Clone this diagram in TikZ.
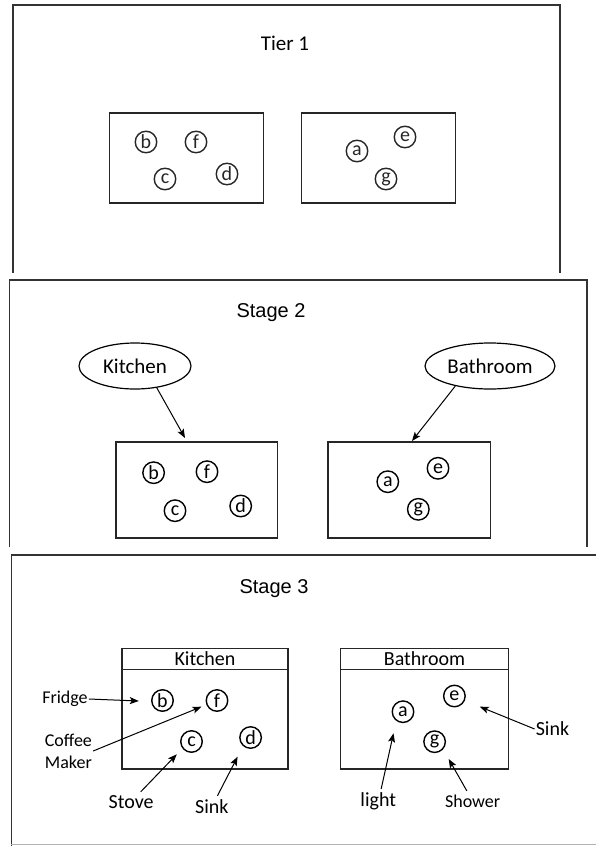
\documentclass[tikz,border=0pt]{standalone}
\usepackage{fontspec}
\setmainfont{Carlito}
\newfontfamily\arialfont{Liberation Sans}
\usetikzlibrary{arrows.meta,shapes.geometric}

\begin{document}
\begin{tikzpicture}[x=1pt, y=-1pt,
    frameStyle/.style={line width=1.3pt, black!80},
    boxStyle/.style={draw, line width=1.6pt, black!85},
    letterStyle/.style={circle, draw, line width=1.4pt, minimum size=21.5pt, inner sep=0pt, font=\fontsize{20}{20}\selectfont},
    ellStyle/.style={ellipse, draw, line width=1.2pt, minimum width=112pt, minimum height=46pt, font=\fontsize{21}{21}\selectfont},
    headStyle/.style={draw, line width=1.6pt, black!85, text=black, minimum height=21pt, inner sep=0pt, anchor=north, font=\fontsize{20}{20}\selectfont},
    tagStyle/.style={inner sep=1pt, font=\fontsize{20}{20}\selectfont},
    arrowStyle/.style={-{Stealth[length=9pt, width=7pt, inset=2pt]}, line width=1pt, shorten <=3pt},
    titleStyle/.style={font=\arialfont\fontsize{20}{20}\selectfont}]

\useasboundingbox (0,0) rectangle (596,846);

% Tier 1
\draw[frameStyle] (13,273) -- (13,5) -- (560,5) -- (560,273);
\node[font=\fontsize{21}{21}\selectfont] (title1) at (285,43) {Tier 1};
\node[boxStyle, minimum width=154pt, minimum height=90pt] (box11) at (186.5,158) {};
\node[boxStyle, minimum width=154pt, minimum height=90pt] (box12) at (378.5,158) {};
\node[letterStyle, black!85] (b1) at (146,142) {b};
\node[letterStyle, black!85] (f1) at (196,142) {f};
\node[letterStyle, black!85] (c1) at (165,179) {c};
\node[letterStyle, black!85] (d1) at (227,174) {d};
\node[letterStyle, black!85] (a1) at (357,151) {a};
\node[letterStyle, black!85] (e1) at (405,137) {e};
\node[letterStyle, black!85] (g1) at (386,179) {g};

% Stage 2
\draw[frameStyle] (9.5,547) -- (9.5,280) -- (587,280) -- (587,547);
\node[titleStyle] (title2) at (271,313) {Stage 2};
\node[ellStyle] (kitchen2) at (135,366) {Kitchen};
\node[ellStyle] (bath2) at (490,366) {Bathroom};
\node[boxStyle, minimum width=161.6pt, minimum height=96pt] (box21) at (196.8,489.7) {};
\node[boxStyle, minimum width=162.5pt, minimum height=96pt] (box22) at (409.3,489.7) {};
\node[letterStyle] (b2) at (153.6,472.7) {b};
\node[letterStyle] (f2) at (207,471.7) {f};
\node[letterStyle] (c2) at (175,510.7) {c};
\node[letterStyle] (d2) at (240.7,506) {d};
\node[letterStyle] (a2) at (387.8,481.7) {a};
\node[letterStyle] (e2) at (438,468.3) {e};
\node[letterStyle] (g2) at (418.3,509.3) {g};
\coordinate (ktip) at (185,438);
\coordinate (btip) at (412,441);
\draw[arrowStyle, shorten <=0pt] (kitchen2.-45) -- (ktip);
\draw[arrowStyle, shorten <=0pt] (bath2.-150) -- (btip);

% Stage 3
\draw[frameStyle] (596,555) -- (11.4,555) -- (11.4,846);
\draw[black!30, line width=1pt] (11.4,844.5) -- (596,844.5);
\node[titleStyle] (title3) at (274,589) {Stage 3};
\node[boxStyle, minimum width=166.5pt, minimum height=120.4pt] (box31) at (205,708.5) {};
\node[boxStyle, minimum width=167.7pt, minimum height=120.4pt] (box32) at (424.5,708.5) {};
\node[headStyle, minimum width=166.5pt] (head31) at (box31.north) {Kitchen};
\node[headStyle, minimum width=167.7pt] (head32) at (box32.north) {Bathroom};
\node[letterStyle] (b3) at (162.5,700.5) {b};
\node[letterStyle] (f3) at (217,700.5) {f};
\node[letterStyle] (c3) at (191.5,741.5) {c};
\node[letterStyle] (d3) at (250.6,737.5) {d};
\node[letterStyle] (a3) at (403,711.7) {a};
\node[letterStyle] (e3) at (454.4,696) {e};
\node[letterStyle] (g3) at (434.6,741.7) {g};

\node[tagStyle, font=\fontsize{18}{18}\selectfont] (fridge) at (65,699) {Fridge};
\node[tagStyle, align=center, font=\fontsize{18}{21.7}\selectfont] (coffee) at (68.4,751) {Coffee\\Maker};
\node[tagStyle] (stove) at (131.2,801.7) {Stove};
\node[tagStyle] (sinkA) at (211.8,806.7) {Sink};
\node[tagStyle] (light) at (378.3,801.7) {light};
\node[tagStyle, font=\fontsize{18}{18}\selectfont] (shower) at (472.6,801) {Shower};
\node[tagStyle] (sinkB) at (552.5,729) {Sink};

\coordinate (fridgeTip) at (138.8,701);
\coordinate (coffeeTip) at (201.5,706.7);
\coordinate (stoveTip) at (176.8,754.3);
\coordinate (sinkATip) at (237.6,756.7);
\coordinate (lightTip) at (393.5,733.3);
\coordinate (showerTip) at (448.7,759);
\coordinate (sinkBTip) at (479.8,706.7);

\draw[arrowStyle, shorten <=0pt] (fridge.east) -- (fridgeTip);
\draw[arrowStyle, shorten <=0pt] (coffee.east) -- (coffeeTip);
\draw[arrowStyle] (stove) -- (stoveTip);
\draw[arrowStyle] (sinkA) -- (sinkATip);
\draw[arrowStyle] (light) -- (lightTip);
\draw[arrowStyle] (shower) -- (showerTip);
\draw[arrowStyle, shorten <=0pt] (sinkB.west) -- (sinkBTip);
\end{tikzpicture}
\end{document}
